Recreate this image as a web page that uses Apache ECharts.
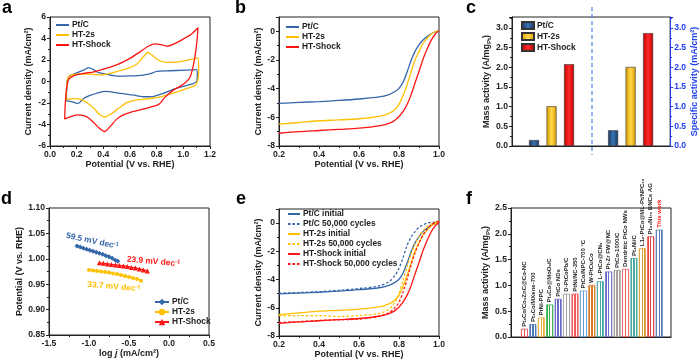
<!DOCTYPE html>
<html><head><meta charset="utf-8">
<script src="https://cdn.jsdelivr.net/npm/echarts@6/dist/echarts.min.js"></script>
<style>html,body{margin:0;padding:0;background:#fff}#c{width:700px;height:363px}</style>
</head><body><div id="c"></div><script>
// ---------- DATA ----------
// (a) cyclic voltammograms [potential V, current mA/cm2] in sweep order
const cvPtC = [[0.12,-1.77],[0.125,-0.8],[0.13,0.1],[0.15,0.55],[0.2,0.8],[0.25,1.05],[0.29,1.3],[0.32,1.15],[0.36,0.85],[0.42,0.68],[0.5,0.5],[0.6,0.52],[0.7,0.6],[0.76,0.75],[0.8,0.95],[0.9,1.0],[1.0,1.05],[1.1,1.1],[1.105,0.6],[1.1,0.0],[1.06,-0.25],[1.0,-0.45],[0.92,-0.75],[0.85,-1.1],[0.78,-1.38],[0.7,-1.42],[0.62,-1.25],[0.5,-1.05],[0.42,-0.92],[0.36,-1.05],[0.3,-1.3],[0.25,-1.6],[0.21,-2.05],[0.17,-1.9],[0.13,-1.8],[0.12,-1.77]];
const cvHT2s = [[0.12,-1.65],[0.125,-0.5],[0.135,0.35],[0.16,0.6],[0.2,0.68],[0.3,0.68],[0.38,0.6],[0.45,0.75],[0.52,1.0],[0.6,1.3],[0.65,1.6],[0.7,2.3],[0.735,2.7],[0.77,2.4],[0.81,2.0],[0.86,1.8],[0.92,1.77],[1.0,1.9],[1.06,2.05],[1.11,2.2],[1.115,1.2],[1.11,0.2],[1.09,-0.35],[1.04,-0.6],[1.0,-0.78],[0.92,-1.1],[0.85,-1.35],[0.75,-1.58],[0.65,-1.7],[0.58,-1.95],[0.52,-2.45],[0.46,-3.0],[0.41,-3.3],[0.37,-3.05],[0.33,-2.5],[0.28,-2.0],[0.24,-1.7],[0.18,-1.6],[0.12,-1.65]];
const cvShock = [[0.11,-3.5],[0.115,-2.0],[0.125,-0.6],[0.14,0.2],[0.18,0.55],[0.25,0.75],[0.33,0.9],[0.4,1.15],[0.5,1.55],[0.6,2.15],[0.68,2.8],[0.74,3.3],[0.79,3.5],[0.84,3.4],[0.88,3.3],[0.94,3.55],[1.0,3.95],[1.06,4.4],[1.11,5.0],[1.1,3.5],[1.08,1.8],[1.05,0.4],[1.0,-0.25],[0.92,-0.85],[0.86,-1.5],[0.82,-2.1],[0.78,-2.3],[0.72,-2.5],[0.62,-2.8],[0.55,-3.1],[0.5,-3.5],[0.45,-4.2],[0.41,-4.65],[0.37,-4.35],[0.33,-3.85],[0.29,-3.4],[0.25,-3.15],[0.2,-3.1],[0.15,-3.3],[0.11,-3.5]];

// (b)/(e) polarization curves
const lsvV = [0.2,0.3,0.4,0.5,0.6,0.7,0.75,0.78,0.8,0.82,0.84,0.86,0.88,0.9,0.92,0.94,0.96,0.98,1.0];
const lsvPtC      = [-5.02,-4.96,-4.9,-4.82,-4.72,-4.58,-4.41,-4.2,-3.98,-3.55,-2.85,-2.05,-1.4,-0.95,-0.6,-0.36,-0.17,-0.05,0.05];
const lsvPtC50k   = [-4.97,-4.92,-4.86,-4.76,-4.64,-4.45,-4.15,-3.7,-3.2,-2.45,-1.6,-1.0,-0.6,-0.3,-0.12,0.0,0.05,0.06,0.07];
const lsvHT2s     = [-6.48,-6.36,-6.24,-6.18,-6.1,-5.94,-5.72,-5.45,-5.1,-4.5,-3.75,-2.85,-2.0,-1.4,-0.85,-0.5,-0.2,-0.03,0.05];
const lsvHT2s50k  = [-6.55,-6.55,-6.55,-6.62,-6.55,-6.4,-6.1,-5.6,-5.0,-4.1,-3.1,-2.2,-1.5,-0.95,-0.55,-0.25,-0.08,0.05,0.1];
const lsvShock    = [-7.11,-7.0,-6.92,-6.84,-6.76,-6.6,-6.42,-6.2,-5.94,-5.6,-5.12,-4.45,-3.6,-2.8,-1.95,-1.25,-0.65,-0.22,0.05];
const lsvShock50k = [-7.04,-6.98,-6.9,-6.85,-6.8,-6.6,-6.35,-6.0,-5.6,-4.9,-4.0,-3.0,-2.1,-1.4,-0.85,-0.45,-0.15,0.05,0.15];

// (c) activities
const actCats = ['Mass activity','Specific activity'];
const actPtC = [0.15, 0.40];
const actHT2s = [1.01, 2.01];
const actShock = [2.08, 2.87];

// (d) Tafel
const tafPtCx = [-1.15,-1.11,-1.07,-1.03,-0.99,-0.95,-0.91,-0.87,-0.83,-0.79,-0.75,-0.71,-0.67,-0.64];
const tafPtCy = [1.025,1.023,1.021,1.019,1.017,1.015,1.013,1.011,1.009,1.006,1.004,1.001,0.997,0.995];
const tafHT2sx = [-1.0,-0.95,-0.9,-0.85,-0.8,-0.75,-0.7,-0.65,-0.6,-0.55,-0.5,-0.45,-0.4,-0.35];
const tafHT2sy = [0.978,0.977,0.976,0.975,0.974,0.973,0.971,0.970,0.968,0.966,0.964,0.962,0.960,0.957];
const tafShockx = [-0.87,-0.82,-0.77,-0.72,-0.67,-0.62,-0.57,-0.52,-0.47,-0.42,-0.37,-0.32,-0.27];
const tafShocky = [0.992,0.991,0.990,0.989,0.988,0.987,0.986,0.985,0.983,0.982,0.980,0.978,0.976];
const tafSlopes = ['59.5','33.7','23.9'];

// (f) literature comparison
const litNames = ['Pt₃Co/Co₂ZnC@Co-NC','Pt₃Co/MXene-700','PtNi-PPC','Pt₃Co@MoOₓ/C','PtCo NDs','D-PtCoPb/C','PtNi/NC-350','PtCo/NPC-700 °C','W-PtCuCo','L-PtCo@CNₓ','Pt-Zr FW@NC','PtCo-1000/C','Dendritic PtCo NWs','Pt₃Ni/C','L1₀-PtCo@ML-Pt/NPC₁₀','Pt₃₀Ni₇₀ BNCs AG','This work'];
const litValues = [0.16,0.25,0.38,0.63,0.74,0.84,0.84,0.90,1.01,1.08,1.27,1.30,1.32,1.53,1.72,1.95,2.08];
const litColors = ['#ee4b55','#4a78b8','#e8b040','#35b04a','#6a6ac8','#a0a0a0','#f05a5a','#6a9ad6','#d87828','#44a89e','#6a6ac8','#a89e98','#e85a5a','#4aa8a0','#d8a030','#e84040','#5a7cb8'];

// ---------- STYLE ----------
const FONT = '"Liberation Sans", Arial, sans-serif';
const INK = '#222';
const BLUE = '#3466aa', GOLD = '#ffc000', RED = '#ff1414';
const AXBLUE = '#2040f0';
const TICK = 8.6, NAME = 9, LEG = 8.4;
const RICH = {
  sub:{fontFamily:FONT,fontWeight:'bold',fontSize:6,verticalAlign:'bottom',lineHeight:11},
  it:{fontFamily:FONT,fontWeight:'bold',fontStyle:'italic',fontSize:NAME}
};
const pair = (xs, ys) => xs.map((x,i)=>[x, ys[i]]);

function vAxis(o){
  const c = o.color || INK;
  return {
    type:'value', gridIndex:o.g, min:o.min, max:o.max, interval:o.iv, position:o.pos,
    name:o.name||'', nameLocation:'middle', nameGap:o.gap||15,
    nameTextStyle:{fontFamily:FONT,fontWeight:'bold',fontSize:NAME,color:c,rich:RICH},
    axisLine:{show:true,onZero:false,lineStyle:{color:c,width:1}},
    axisTick:{show:o.ticks!==false,length:3,lineStyle:{color:c}},
    minorTick:{show:o.ticks!==false && o.minor!==false,splitNumber:2,length:2,lineStyle:{color:c}},
    splitLine:{show:false}, minorSplitLine:{show:false},
    axisLabel:{show:o.labels!==false,fontFamily:FONT,fontWeight:'bold',fontSize:TICK,color:c,margin:4,
      formatter:v=>{const k=v/o.iv; return Math.abs(k-Math.round(k))<1e-6 ? (Math.abs(v)<1e-9?0:v).toFixed(o.dec) : '';}}
  };
}
function legend(o){
  return Object.assign({orient:'vertical',itemGap:2,itemWidth:13,itemHeight:7,padding:0,
    textStyle:{fontFamily:FONT,fontWeight:'bold',fontSize:LEG,color:INK,padding:[0,0,0,-2]},
    formatter:n=>n.split('#')[0]}, o);
}
function line(name,x,y,data,color,extra){
  return Object.assign({type:'line',name,xAxisIndex:x,yAxisIndex:y,data,symbol:'none',smooth:0.3,
    lineStyle:{color,width:1.3},itemStyle:{color},animation:false},extra||{});
}
function barGrad(c1,c2){
  return {type:'linear',x:0,y:0,x2:1,y2:0,colorStops:[{offset:0,color:c1},{offset:0.5,color:c2},{offset:1,color:c1}]};
}
function stripes(c){
  const w='#ffffff';
  return {type:'linear',x:0,y:0,x2:1,y2:0,colorStops:[
    {offset:0,color:c},{offset:0.2,color:c},{offset:0.2,color:w},{offset:0.4,color:w},
    {offset:0.4,color:c},{offset:0.6,color:c},{offset:0.6,color:w},{offset:0.8,color:w},
    {offset:0.8,color:c},{offset:1,color:c}]};
}
function slopeMark(text,coord,color,rot){
  return {coord, value:text, symbol:'circle', symbolSize:0,
    label:{show:true,position:'inside',rotate:rot,formatter:text+' mV dec{sup|-1}',
      fontFamily:FONT,fontWeight:'bold',fontSize:8.4,color,
      rich:{sup:{fontFamily:FONT,fontWeight:'bold',fontSize:5.5,color,verticalAlign:'top',lineHeight:10}}}};
}

const gridBox = {show:true,borderColor:INK,borderWidth:1,backgroundColor:'transparent'};
const noSym = {itemStyle:{opacity:0}};
const option = {
  animation:false,
  backgroundColor:'#fff',
  grid:[
    Object.assign({left:50,top:17,width:160,height:129},gridBox),
    Object.assign({left:279,top:17,width:160,height:129},gridBox),
    Object.assign({left:512,top:17,width:159,height:129},gridBox),
    Object.assign({left:49,top:208,width:160,height:127},gridBox),
    Object.assign({left:279,top:209,width:160,height:127},gridBox),
    Object.assign({left:511,top:208,width:160,height:129},gridBox)
  ],
  xAxis:[
    vAxis({g:0,min:0,max:1.2,iv:0.2,dec:1,name:'Potential (V vs. RHE)',gap:14}),
    vAxis({g:1,min:0.2,max:1.0,iv:0.2,dec:1,name:'Potential (V vs. RHE)',gap:14}),
    {type:'category',gridIndex:2,data:actCats,axisLine:{lineStyle:{color:INK}},axisTick:{show:false},axisLabel:{show:false}},
    vAxis({g:3,min:-1.5,max:0.5,iv:0.5,dec:1,name:'log {it|j} (mA/cm²)',gap:14}),
    vAxis({g:4,min:0.2,max:1.0,iv:0.2,dec:1,name:'Potential (V vs. RHE)',gap:14}),
    vAxis({g:5,min:-0.6,max:18.4,iv:1,dec:0,labels:false,ticks:false})
  ],
  yAxis:[
    vAxis({g:0,min:-6,max:6,iv:2,dec:0,name:'Current density (mA/cm²)',gap:17}),
    vAxis({g:1,min:-8,max:1,iv:2,dec:0,name:'Current density (mA/cm²)',gap:15}),
    vAxis({g:2,min:0,max:3.28,iv:0.5,dec:1,name:'Mass activity (A/mg{sub|Pt})',gap:18}),
    vAxis({g:2,min:0,max:3.28,iv:0.5,dec:1,pos:'right',color:AXBLUE,name:'Specific activity (mA/cm²)',gap:19}),
    vAxis({g:3,min:0.85,max:1.10,iv:0.05,dec:2,name:'Potential (V vs. RHE)',gap:23}),
    vAxis({g:4,min:-8,max:1,iv:2,dec:0,name:'Current density (mA/cm²)',gap:15}),
    vAxis({g:5,min:0,max:2.5,iv:0.5,dec:1,name:'Mass activity (A/mg{sub|Pt})',gap:18})
  ],
  legend:[
    legend(Object.assign({left:55,top:21,data:['Pt/C#a','HT-2s#a','HT-Shock#a']},noSym)),
    legend(Object.assign({left:285,top:23,data:['Pt/C#b','HT-2s#b','HT-Shock#b']},noSym)),
    legend({left:521,top:21,icon:'rect',itemWidth:12,itemHeight:7,data:['Pt/C#c','HT-2s#c','HT-Shock#c']}),
    legend({left:154,top:298,itemHeight:8,itemWidth:14,data:['Pt/C#d','HT-2s#d','HT-Shock#d']}),
    legend(Object.assign({left:287,top:210,itemHeight:7.5,itemWidth:12,data:['Pt/C initial','Pt/C 50,000 cycles','HT-2s initial','HT-2s 50,000 cycles','HT-Shock initial','HT-Shock 50,000 cycles']},noSym))
  ],
  series:[
    line('Pt/C#a',0,0,cvPtC,BLUE,{smooth:0.25}),
    line('HT-2s#a',0,0,cvHT2s,GOLD,{smooth:0.25}),
    line('HT-Shock#a',0,0,cvShock,RED,{smooth:0.25}),

    line('Pt/C#b',1,1,pair(lsvV,lsvPtC),BLUE),
    line('HT-2s#b',1,1,pair(lsvV,lsvHT2s),GOLD),
    line('HT-Shock#b',1,1,pair(lsvV,lsvShock),RED),

    {type:'bar',name:'Pt/C#c',xAxisIndex:2,yAxisIndex:2,data:actPtC,barWidth:10,barGap:'75%',
      itemStyle:{color:barGrad('#17365f','#3a74b4'),borderColor:'#333',borderWidth:0.6}},
    {type:'bar',name:'HT-2s#c',xAxisIndex:2,yAxisIndex:2,data:actHT2s,barWidth:10,barGap:'75%',
      itemStyle:{color:barGrad('#d99a00','#ffd84a'),borderColor:'#333',borderWidth:0.6}},
    {type:'bar',name:'HT-Shock#c',xAxisIndex:2,yAxisIndex:2,data:actShock,barWidth:10,barGap:'75%',
      itemStyle:{color:barGrad('#c20000','#ff2a2a'),borderColor:'#333',borderWidth:0.6}},

    line('Pt/C#d',3,4,pair(tafPtCx,tafPtCy),BLUE,{smooth:false,symbol:'diamond',symbolSize:5,
      markPoint:{data:[slopeMark(tafSlopes[0],[-0.96,1.035],BLUE,-12)]}}),
    line('HT-2s#d',3,4,pair(tafHT2sx,tafHT2sy),GOLD,{smooth:false,symbol:'circle',symbolSize:4,
      markPoint:{data:[slopeMark(tafSlopes[1],[-0.69,0.945],GOLD,-5)]}}),
    line('HT-Shock#d',3,4,pair(tafShockx,tafShocky),RED,{smooth:false,symbol:'triangle',symbolSize:5,
      markPoint:{data:[slopeMark(tafSlopes[2],[-0.195,0.9945],RED,-5)]}}),

    line('Pt/C initial',4,5,pair(lsvV,lsvPtC),BLUE),
    line('Pt/C 50,000 cycles',4,5,pair(lsvV,lsvPtC50k),BLUE,{lineStyle:{color:BLUE,width:1.3,type:[2.5,2]}}),
    line('HT-2s initial',4,5,pair(lsvV,lsvHT2s),GOLD),
    line('HT-2s 50,000 cycles',4,5,pair(lsvV,lsvHT2s50k),GOLD,{lineStyle:{color:GOLD,width:1.3,type:[2.5,2]}}),
    line('HT-Shock initial',4,5,pair(lsvV,lsvShock),RED),
    line('HT-Shock 50,000 cycles',4,5,pair(lsvV,lsvShock50k),RED,{lineStyle:{color:RED,width:1.3,type:[2.5,2]}}),

    {type:'bar',name:'lit',xAxisIndex:5,yAxisIndex:6,barWidth:7,
      data:litValues.map((v,i)=>({value:[i+1,v],
        itemStyle:{color:stripes(litColors[i]),borderColor:litColors[i],borderWidth:0.8},
        label:{color:i===litValues.length-1?'#ff1010':INK}})),
      label:{show:true,position:'top',rotate:90,align:'left',verticalAlign:'middle',distance:2,
        fontFamily:FONT,fontWeight:'bold',fontSize:6,formatter:p=>litNames[p.dataIndex]}}
  ],
  graphic:[
    {type:'line',shape:{x1:592,y1:7,x2:592,y2:155},style:{stroke:'#4a86e8',lineWidth:1.2,lineDash:[4,3]}},
    {type:'text',left:2,top:-1,style:{text:'a',font:'bold 18px "Liberation Sans"',fill:'#000'}},
    {type:'text',left:235,top:-1,style:{text:'b',font:'bold 18px "Liberation Sans"',fill:'#000'}},
    {type:'text',left:466,top:-1,style:{text:'c',font:'bold 18px "Liberation Sans"',fill:'#000'}},
    {type:'text',left:1,top:190,style:{text:'d',font:'bold 18px "Liberation Sans"',fill:'#000'}},
    {type:'text',left:236,top:190,style:{text:'e',font:'bold 18px "Liberation Sans"',fill:'#000'}},
    {type:'text',left:466,top:190,style:{text:'f',font:'bold 18px "Liberation Sans"',fill:'#000'}}
  ]
};
const chart = echarts.init(document.getElementById('c'),null,{renderer:'canvas'});
chart.setOption(option);
</script></body></html>
